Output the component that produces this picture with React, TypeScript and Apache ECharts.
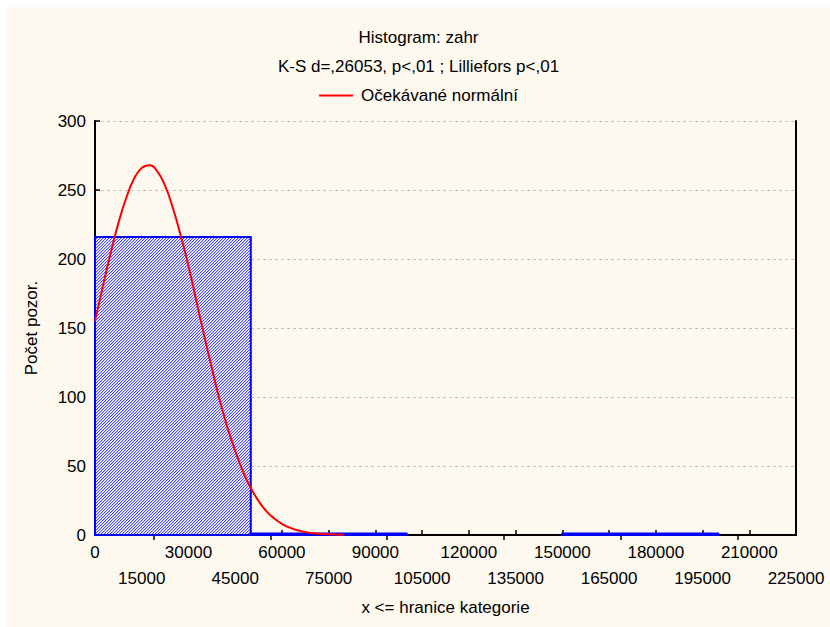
import React, { useEffect, useRef } from "react";
import * as echarts from "echarts";

// Histogram bins: [lower bound, upper bound, count]
const binLower = [0, 50000, 100000, 150000];
const binUpper = [50000, 100000, 150000, 200000];
const binCounts = [216, 1, 0, 1];

// Expected normal curve
const curveX = [
  0, 2500, 5000, 7500, 10000, 12500, 15000, 17500, 20000, 22500, 25000, 27500,
  30000, 32500, 35000, 37500, 40000, 42500, 45000, 47500, 50000, 52500, 55000,
  57500, 60000, 62500, 65000, 67500, 70000, 75000, 80000,
];
const curveY = [
  155, 180, 204, 226, 244, 258, 266, 268, 263.5, 253, 237, 217, 195, 170, 145,
  121, 98, 78, 61, 46, 34, 24.6, 17.3, 12, 8, 5.3, 3.4, 2.1, 1.3, 0.46, 0.15,
];

const topTicks = ["a", "b", "c", "d", "e", "f"];

const titleText = "Histogram: zahr";
const subtitleText = "K-S d=,26053, p<,01 ; Lilliefors p<,01";
const curveName = "Očekávané normální";
const xName = "x <= hranice kategorie";
const yName = "Počet pozor.";

const FONT = "'Liberation Sans', Arial, sans-serif";
const FS = 17;
const X_STEP = 15000;

function makeHatch(): HTMLCanvasElement {
  const c = document.createElement("canvas");
  c.width = 3;
  c.height = 3;
  const ctx = c.getContext("2d")!;
  ctx.fillStyle = "#ffffff";
  ctx.fillRect(0, 0, 3, 3);
  for (let i = 0; i < 3; i++) {
    ctx.fillStyle = "#4c4cff";
    ctx.fillRect(i, 2 - i, 1, 1);
    ctx.fillStyle = "#c4c4fc";
    ctx.fillRect(i, (3 - i) % 3, 1, 1);
  }
  return c;
}

export default function App() {
  const ref = useRef<HTMLDivElement>(null);
  useEffect(() => {
    if (!ref.current) return;
    const chart = echarts.init(ref.current, undefined, { renderer: "svg" });
    const hatch = makeHatch();
    const bins = binLower.map((l, i) => [l, binUpper[i], binCounts[i]]);
    const curve = curveX.map((x, i) => [x, curveY[i]]);
    const txt = { fontSize: FS, color: "#000", fontFamily: FONT };
    const hiddenAxisParts = {
      axisLine: { show: false },
      axisTick: { show: false },
      splitLine: { show: false },
    };
    chart.setOption({
      animation: false,
      backgroundColor: "#fdf9ef",
      textStyle: { fontFamily: FONT },
      title: [
        {
          text: titleText,
          left: "center",
          top: 22,
          padding: 0,
          textStyle: { ...txt, fontWeight: "normal" },
        },
        {
          text: subtitleText,
          left: "center",
          top: 51,
          padding: 0,
          textStyle: { ...txt, fontWeight: "normal" },
        },
      ],
      legend: {
        data: [curveName],
        top: 80,
        left: "center",
        padding: 0,
        icon: "rect",
        itemWidth: 34,
        itemHeight: 2,
        itemGap: 5,
        textStyle: { ...txt, padding: [0, 0, 0, 3] },
      },
      grid: { left: 88, right: 34, top: 114, bottom: 92 },
      xAxis: [
        {
          type: "value",
          min: 0,
          max: 225000,
          interval: X_STEP,
          name: xName,
          nameLocation: "middle",
          nameGap: 64,
          nameTextStyle: txt,
          axisLine: { show: true, onZero: false, lineStyle: { color: "#000", width: 2 } },
          axisTick: { show: true, inside: true, length: 5, lineStyle: { color: "#000", width: 1.5 } },
          splitLine: { show: false },
          axisLabel: {
            ...txt,
            show: true,
            margin: 9,
            showMinLabel: true,
            showMaxLabel: false,
            formatter: (v: number) => (Math.round(v / X_STEP) % 2 === 0 ? String(v) : ""),
          },
        },
        {
          type: "category",
          position: "top",
          data: topTicks,
          boundaryGap: true,
          axisLine: { show: true, lineStyle: { color: "#000", width: 2 } },
          axisTick: { show: true, inside: true, alignWithLabel: true, length: 5, lineStyle: { color: "#000", width: 1.5 } },
          axisLabel: { show: false },
          splitLine: { show: false },
        },
        {
          type: "value",
          position: "bottom",
          min: 0,
          max: 225000,
          interval: X_STEP,
          ...hiddenAxisParts,
          axisLabel: {
            ...txt,
            show: true,
            margin: 35,
            showMinLabel: false,
            showMaxLabel: true,
            formatter: (v: number) => (Math.round(v / X_STEP) % 2 === 1 ? String(v) : ""),
          },
        },
      ],
      yAxis: [
        {
          type: "value",
          min: 0,
          max: 300,
          interval: 50,
          name: yName,
          nameLocation: "middle",
          nameGap: 55,
          nameTextStyle: txt,
          axisLine: { show: true, onZero: false, lineStyle: { color: "#000", width: 2 } },
          axisTick: { show: true, inside: true, length: 5, lineStyle: { color: "#000", width: 1.5 } },
          axisLabel: { ...txt, margin: 9 },
          splitLine: { show: true, lineStyle: { color: "#c0c0c0", type: [3, 3], width: 1 } },
        },
        {
          type: "value",
          min: 0,
          max: 300,
          interval: 50,
          position: "right",
          axisLine: { show: true, onZero: false, lineStyle: { color: "#000", width: 2 } },
          axisTick: { show: false },
          axisLabel: { show: false },
          splitLine: { show: false },
        },
      ],
      series: [
        {
          type: "custom",
          name: "bins",
          xAxisIndex: 0,
          yAxisIndex: 0,
          data: bins,
          encode: { x: [0, 1], y: 2 },
          z: 2,
          renderItem: (params: any, api: any) => {
            const x0 = api.value(0);
            const x1 = api.value(1);
            const y = api.value(2);
            if (!y) return null;
            const p0 = api.coord([x0, y]);
            const p1 = api.coord([x1, 0]);
            return {
              type: "rect",
              shape: { x: p0[0], y: p0[1], width: p1[0] - p0[0], height: p1[1] - p0[1] },
              style: {
                fill: { image: hatch, repeat: "repeat" },
                stroke: "#0000ff",
                lineWidth: 2,
              },
            };
          },
        },
        {
          type: "line",
          name: curveName,
          xAxisIndex: 0,
          yAxisIndex: 0,
          data: curve,
          smooth: true,
          symbol: "none",
          z: 5,
          lineStyle: { color: "#ff0000", width: 2 },
          itemStyle: { color: "#ff0000" },
        },
      ],
    });
    return () => chart.dispose();
  }, []);
  return (
    <div
      ref={ref}
      style={{ position: "absolute", left: 7, top: 7, width: 823, height: 620 }}
    />
  );
}
